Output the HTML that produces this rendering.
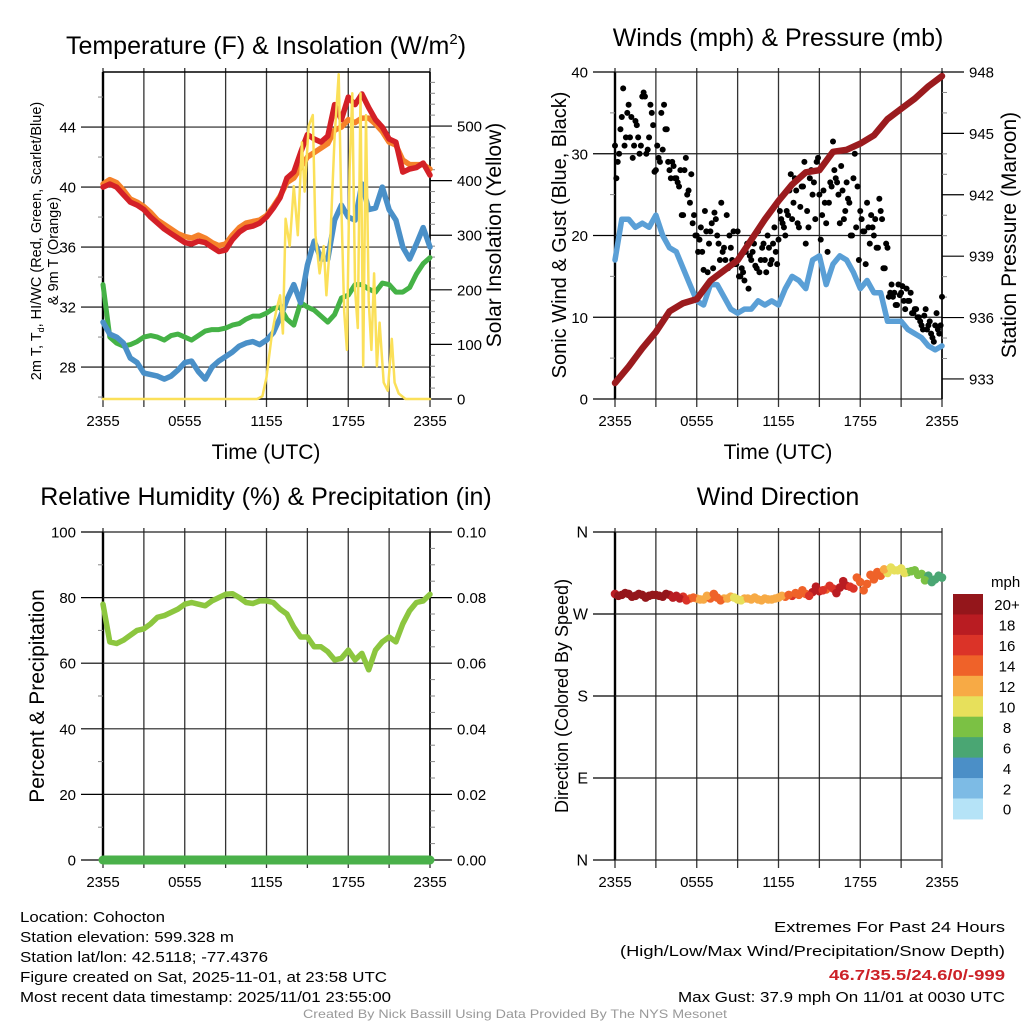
<!DOCTYPE html>
<html><head><meta charset="utf-8"><style>
html,body{margin:0;padding:0;background:#fff;}
svg{display:block;font-family:"Liberation Sans",sans-serif;}
</style></head><body>
<svg id="fig" width="1024" height="1024" viewBox="0 0 1024 1024">
<g id="layer"></g>
<g font-size="15" fill="#000">
<text x="20" y="922" textLength="145" lengthAdjust="spacingAndGlyphs">Location: Cohocton</text>
<text x="20" y="942" textLength="214" lengthAdjust="spacingAndGlyphs">Station elevation: 599.328 m</text>
<text x="20" y="962" textLength="248" lengthAdjust="spacingAndGlyphs">Station lat/lon: 42.5118; -77.4376</text>
<text x="20" y="982" textLength="367" lengthAdjust="spacingAndGlyphs">Figure created on Sat, 2025-11-01, at 23:58 UTC</text>
<text x="20" y="1002" textLength="371" lengthAdjust="spacingAndGlyphs">Most recent data timestamp: 2025/11/01 23:55:00</text>
<text x="774" y="932" textLength="231" lengthAdjust="spacingAndGlyphs">Extremes For Past 24 Hours</text>
<text x="620" y="956" textLength="385" lengthAdjust="spacingAndGlyphs">(High/Low/Max Wind/Precipitation/Snow Depth)</text>
<text x="829" y="980" textLength="176" lengthAdjust="spacingAndGlyphs" font-weight="bold" fill="#cc2127">46.7/35.5/24.6/0/-999</text>
<text x="678" y="1002" textLength="327" lengthAdjust="spacingAndGlyphs">Max Gust: 37.9 mph On 11/01 at 0030 UTC</text>
<text x="303" y="1018" textLength="424" lengthAdjust="spacingAndGlyphs" font-size="12" fill="#999">Created By Nick Bassill Using Data Provided By The NYS Mesonet</text>
</g>
</svg>
<script>
// ---------- data ----------
const xTickLabels = ["2355","0555","1155","1755","2355"];
const tempRed = [40.0,40.2,40.0,39.5,39.0,38.8,38.5,38.0,37.6,37.2,36.9,36.6,36.3,36.2,36.4,36.3,36.0,35.7,35.8,36.5,37.0,37.3,37.4,37.6,38.0,38.6,39.3,40.6,41.0,42.3,43.5,43.2,43.0,43.4,45.5,44.5,46.0,45.5,46.2,45.3,44.5,44.0,43.2,43.0,41.0,41.2,41.3,41.6,40.8];
const tempOrange = [40.2,40.5,40.3,39.8,39.2,39.0,38.7,38.3,37.8,37.5,37.2,36.9,36.7,36.6,36.8,36.6,36.3,36.1,36.2,36.8,37.3,37.6,37.7,37.8,38.1,38.7,39.4,40.3,40.6,41.3,42.0,42.3,42.6,42.9,43.8,44.0,44.5,44.3,44.6,44.6,44.2,43.7,43.0,42.8,41.8,41.5,41.5,41.5,41.2];
const windChillBlue = [31.0,30.2,30.0,29.6,28.6,28.3,27.6,27.5,27.4,27.2,27.4,27.8,28.3,28.4,27.7,27.2,28.0,28.4,28.7,29.0,29.4,29.6,29.7,29.5,29.8,30.3,31.3,32.5,33.5,32.3,34.8,36.4,35.2,35.2,37.8,38.8,38.0,37.8,40.2,38.5,38.6,40.0,38.5,37.8,36.0,35.2,36.2,37.3,36.0];
const dewGreen = [33.5,30.0,29.6,29.4,29.5,29.7,30.0,30.1,30.0,29.8,30.1,30.2,30.0,29.8,30.1,30.4,30.5,30.5,30.6,30.8,30.9,31.2,31.4,31.4,31.6,31.9,32.0,31.2,30.8,32.3,32.0,31.8,31.4,31.0,31.5,32.6,32.8,33.5,33.5,33.2,33.0,33.6,33.5,33.0,33.0,33.3,34.2,34.9,35.3];
const solarHours = [0,11.3,11.7,12.0,12.4,12.7,13.0,13.2,13.4,13.7,14.0,14.3,14.6,14.8,15.1,15.4,15.6,15.9,16.2,16.4,16.7,17.0,17.3,17.5,17.7,17.9,18.1,18.3,18.5,18.7,18.9,19.1,19.3,19.5,19.7,19.9,20.1,20.3,20.6,20.9,21.2,21.4,21.7,22.2,24];
const solarValues = [0,0,5,40,120,160,190,120,330,280,390,300,470,380,500,520,300,230,280,190,300,480,595,350,160,90,420,560,200,130,560,60,520,180,90,230,60,140,30,15,110,30,10,0,0];
const windSpeed = [17,22,22,21,21.5,21,22.5,20,18.5,18,16,14,12,11.5,14,14,12.5,11,10.5,11,11,12,11.5,12,11.5,13.5,15,14.5,13.5,17,17.5,14,16.5,17.5,17,15.5,13.5,14.5,13,13,9.5,9.5,9.5,8.5,8,7.5,6.5,6,6.5];
const pressure = [932.8,933.6,934.5,935.3,936.3,936.7,936.9,937.8,938.3,938.8,939.8,940.8,941.7,942.5,943.1,943.2,944.1,944.2,944.5,944.9,945.7,946.2,946.7,947.3,947.8];
const gustA = [31,29,33,38,32,36,34.5,31,33.5,30,37, 37,30.5,36,33.5,28,29.5,35,36,33,28, 29,27,26.5,28,22.5,29.5,25.5,27.5,22.5,20, 19.5,18,23,15.5,20.5,16,22,19,24,18.5, 22.5,20,17,16.5,20.5,15,15.5,18,13.5,17, 19,16,15.5,18.5,17,20,16.5,19,18,19.5, 22,21,23,25.5,22,27,21.5,23.5,26,19, 21,28,26.5,29,25,22.5,24,18,26.5,31.5, 27,25,28.5,22,26.5,24,20,30,26,23, 20.5,16.5,21,22.5,20,18.5,24.5,22,16,18.5, 13,12.5,11.5,14,13,12,13.5,12,10.5,11, 10,9.5,8.5,11,9,8,7,10.5,8,12.5];
const gustB = [27,30,34.5,31,35,32,29.5,34,32,31, 37.5,30,32,35,27.8,31,29,30.5,33,29, 27,28.5,27,26,22.5,28,25,24,21.5,20, 18,21,15.8,20.5,19,21.5,22.8,20,17,18, 17,16,18.5,20.5,16.5,15,16,14.5,19,17.5, 18,16.3,20.5,17,19,15.5,18.5,17,21,16.5, 23,21.5,20,22.5,27.5,24,25.5,21,26,29, 23,27,25,22,29.5,19.5,25.5,21.5,24,26, 28,26.5,21.5,25.5,23,24.5,20,27,21,17, 22,20.5,24,19,21,22,18.5,23,16,19, 12.5,14,13,11.5,12.7,13.8,11,12,13,10.5, 11,10,9,10.2,8.5,9.5,7.5,9,8.5,9];
const rhValues = [78,66.5,66,67,68.5,70,70.5,72,74,74.5,75.5,76.5,78,78.5,78,77.5,79,80,81,81.2,80,78.5,78.2,79,79,78.5,76.5,75,71,68,68,65,65,63.5,61,61.5,64,61,63,58,64,66.5,68,66.5,72,76,78.5,79,81];
const precipValues = [0,0,0,0,0,0,0,0,0,0,0,0,0,0,0,0,0,0,0,0,0,0,0,0,0];
const dirA = [292,291,292,290,291,290,291,289,291,290,289,287,287,286,287,288,287,289,286,287,286,286,287,286,288,289,290,291,292,294,295,297,298,299,301,298,305,303,308,312,315,318,320,316,318,314,312,308,310];
const dirB = [290,293,289,292,288,291,290,292,288,287,285,288,286,290,292,285,287,288,285,287,288,285,286,287,290,291,293,296,290,300,296,301,293,306,300,310,296,313,316,319,321,318,315,317,313,307,305,312];
const speedLabels = ["0","2","4","6","8","10","12","14","16","18","20+"];
const speedColors = ["#b5e3f7","#7dbbe5","#4b8fc7","#4aa673","#7bc144","#e7e05b","#f7aa45","#ef6229","#db3328","#b91c22","#94161b"];

// ---------- helpers ----------
const NS="http://www.w3.org/2000/svg";
const layer=document.getElementById('layer');
function mk(tag,attrs,parent){const e=document.createElementNS(NS,tag);for(const k in attrs)e.setAttribute(k,attrs[k]);(parent||layer).appendChild(e);return e;}
function txt(x,y,s,attrs,parent){const t=mk('text',Object.assign({x:x,y:y},attrs||{}),parent);t.textContent=s;return t;}
function lin(a,b,c,d){return function(v){return c+(v-a)*(d-c)/(b-a);};}

function panel(name,L,R,T,B){
  const g=mk('g',{});
  
  
  const xs=lin(0,24,L,R);
  for(let h=0;h<=24;h+=3){
    mk('line',{x1:xs(h),x2:xs(h),y1:T-4,y2:B+8,stroke:'#333','stroke-width':1.3},g);
  }
  xTickLabels.forEach((s,i)=>{
    const t=txt(xs(i*6),B+27,s,{'font-size':15,'text-anchor':'middle'},g);
    
    
  });
  return {g:g,xs:xs};
}
function yAxis(g,side,x,T,B,lo,hi,majors,minors,labels,fs){
  const ys=lin(lo,hi,B,T);
  const dir= side==='left'?-1:1;
  mk('line',{x1:x,x2:x,y1:T,y2:B,stroke:'#000','stroke-width':side==='left'?2.4:1.6},g);
  minors.forEach(v=>mk('line',{x1:x,x2:x+dir*5,y1:ys(v),y2:ys(v),stroke:'#888','stroke-width':1},g));
  majors.forEach((v,i)=>{
    mk('line',{x1:x,x2:x+dir*22,y1:ys(v),y2:ys(v),stroke:'#000','stroke-width':1.2},g);
    const t=txt(x+dir*27,ys(v)+5.5,labels[i],{'font-size':fs||15,'text-anchor':side==='left'?'end':'start'},g);
    
    
  });
  return ys;
}
function hgrid(g,L,R,ys,vals){vals.forEach(v=>mk('line',{x1:L,x2:R,y1:ys(v),y2:ys(v),stroke:'#222','stroke-width':1.2},g));}
function pathFrom(xsArr,ysArr,xs,ys){return xsArr.map((h,i)=>(i?'L':'M')+xs(h).toFixed(1)+' '+ys(ysArr[i]).toFixed(1)).join(' ');}
function series(g,hours,vals,xs,ys,color,w,name){
  const p=mk('path',{d:pathFrom(hours,vals,xs,ys),fill:'none',stroke:color,'stroke-width':w,'stroke-linejoin':'round','stroke-linecap':'round'},g);
  
  
  return p;
}
function rtitle(g,x,y,s,fs,name){
  const t=txt(0,0,s,{'font-size':fs,'text-anchor':'middle',transform:'translate('+x+','+y+') rotate(-90)'},g);
  
  
  return t;
}
function title(g,x,y,s,fs,name){
  const t=txt(x,y,s,{'font-size':fs,'text-anchor':'middle'},g);
  
  
  return t;
}
const half=rhValues.map((_,i)=>i*0.5);
const hourly=pressure.map((_,i)=>i);
function colorFor(s){return speedColors[Math.min(10,Math.max(0,Math.floor(s/2)))];}

// ---------- panel 1: temperature ----------
(function(){
  const L=103,R=430,T=72,B=399;
  const P=panel('temperature-panel',L,R,T,B);const g=P.g,xs=P.xs;
  const ys=yAxis(g,'left',L,T,B,25.87,47.67,[28,32,36,40,44],[26,30,34,38,42,46],["28","32","36","40","44"]);
  hgrid(g,L,R,ys,[28,32,36,40,44]);
  mk('line',{x1:L,x2:R,y1:T,y2:T,stroke:'#000','stroke-width':1.5},g);
  mk('line',{x1:L,x2:R,y1:B,y2:B,stroke:'#000','stroke-width':1.5},g);
  const yr=yAxis(g,'right',R,T,B,0,599,[0,100,200,300,400,500],[20,40,60,80,120,140,160,180,220,240,260,280,320,340,360,380,420,440,460,480,520,540,560,580],["0","100","200","300","400","500"]);
  series(g,half,dewGreen,xs,ys,'#45b246',5,'dewpoint-line');
  series(g,half,windChillBlue,xs,ys,'#4a90c8',5.5,'wind-chill-line');
  series(g,half,tempOrange,xs,ys,'#f5812a',5.5,'temp-9m-line');
  series(g,half,tempRed,xs,ys,'#d42027',5.5,'temp-2m-line');
  series(g,solarHours,solarValues,xs,yr,'#fbe059',2.5,'solar-insolation-line');
  const t=txt(266,54,'Temperature (F) & Insolation (W/m',{'font-size':25,'text-anchor':'middle'},g);
  
  
  const sup=mk('tspan',{'font-size':15,dy:-10},t);sup.textContent='2';
  const cl=mk('tspan',{dy:10},t);cl.textContent=')';
  const lt=txt(0,0,'',{'font-size':14.5,'text-anchor':'middle',transform:'translate(41,241) rotate(-90)'},g);
  
  
  const a=mk('tspan',{},lt);a.textContent='2m T, T';
  const b=mk('tspan',{'font-size':9,dy:3},lt);b.textContent='d';
  const c=mk('tspan',{dy:-3},lt);c.textContent=', HI/WC (Red, Green, Scarlet/Blue)';
  rtitle(g,58,251,'& 9m T (Orange)',14.5,'temperature-y-axis-title-2');
  rtitle(g,501,235,'Solar Insolation (Yellow)',21,'solar-y-axis-title');
  title(g,266,459,'Time (UTC)',21,'x-axis-title');
})();

// ---------- panel 2: winds & pressure ----------
(function(){
  const L=615,R=942,T=72,B=399;
  const P=panel('winds-panel',L,R,T,B);const g=P.g,xs=P.xs;
  const ys=yAxis(g,'left',L,T,B,0,40,[0,10,20,30,40],[5,15,25,35],["0","10","20","30","40"]);
  hgrid(g,L,R,ys,[0,10,20,30,40]);
  const yr=yAxis(g,'right',R,T,B,932.02,948,[933,936,939,942,945,948],[934,935,937,938,940,941,943,944,946,947],["933","936","939","942","945","948"]);
  series(g,half,windSpeed,xs,ys,'#5a9fd6',5.5,'sonic-wind-line');
  gustA.forEach((v,i)=>{const c=mk('circle',{cx:xs(i*0.2),cy:ys(v),r:3,fill:'#000'},g);
    
    });
  gustB.forEach((v,i)=>{const c=mk('circle',{cx:xs(0.1+i*0.2),cy:ys(v),r:3,fill:'#000'},g);
    
    });
  series(g,hourly,pressure,xs,yr,'#9b1b1e',6.5,'pressure-line');
  title(g,778,46,'Winds (mph) & Pressure (mb)',25,'winds-title');
  rtitle(g,566,235,'Sonic Wind & Gust (Blue, Black)',20,'wind-y-axis-title');
  rtitle(g,1016,235,'Station Pressure (Maroon)',21,'pressure-y-axis-title');
  title(g,778,459,'Time (UTC)',21,'x-axis-title');
})();

// ---------- panel 3: RH & precip ----------
(function(){
  const L=103,R=430,T=532,B=860;
  const P=panel('humidity-panel',L,R,T,B);const g=P.g,xs=P.xs;
  const ys=yAxis(g,'left',L,T,B,0,100,[0,20,40,60,80,100],[10,30,50,70,90],["0","20","40","60","80","100"]);
  hgrid(g,L,R,ys,[0,20,40,60,80,100]);
  const yr=yAxis(g,'right',R,T,B,0,0.1,[0,0.02,0.04,0.06,0.08,0.1],[0.005,0.01,0.015,0.025,0.03,0.035,0.045,0.05,0.055,0.065,0.07,0.075,0.085,0.09,0.095],["0.00","0.02","0.04","0.06","0.08","0.10"]);
  series(g,half,rhValues,xs,ys,'#8cc63f',5.5,'relative-humidity-line');
  series(g,hourly,precipValues,xs,yr,'#4ab14a',9,'precipitation-line');
  title(g,266,505,'Relative Humidity (%) & Precipitation (in)',25,'humidity-title');
  rtitle(g,44,696,'Percent & Precipitation',21,'humidity-y-axis-title');
})();

// ---------- panel 4: wind direction ----------
(function(){
  const L=615,R=942,T=532,B=860;
  const P=panel('wind-direction-panel',L,R,T,B);const g=P.g,xs=P.xs;
  const ys=yAxis(g,'left',L,T,B,0,360,[0,90,180,270,360],[],["N","E","S","W","N"],16);
  hgrid(g,L,R,ys,[0,90,180,270,360]);
  dirA.forEach((d,i)=>{const c=mk('circle',{cx:xs(i*0.5),cy:ys(d),r:4.3,fill:colorFor(windSpeed[i]+1)},g);
    
    });
  dirB.forEach((d,i)=>{const s=(windSpeed[i]+windSpeed[i+1])/2;const c=mk('circle',{cx:xs(0.25+i*0.5),cy:ys(d),r:4.3,fill:colorFor(s+1)},g);
    
    });
  title(g,778,505,'Wind Direction',25,'wind-direction-title');
  rtitle(g,568,696,'Direction (Colored By Speed)',18,'direction-y-axis-title');
  const lg=mk('g',{},g);
  
  
  const top=594,bh=20.45;
  for(let i=10;i>=0;i--){
    const y=top+(10-i)*bh;
    const r=mk('rect',{x:953,y:y,width:30,height:bh+0.5,fill:speedColors[i]},lg);
    
    
    const t=txt(1007,y+bh/2+6,speedLabels[i],{'font-size':15,'text-anchor':'middle'},lg);
    
    
  }
  const m=txt(991,587,'mph',{'font-size':15},lg);
  
  
})();
</script>
</body></html>
